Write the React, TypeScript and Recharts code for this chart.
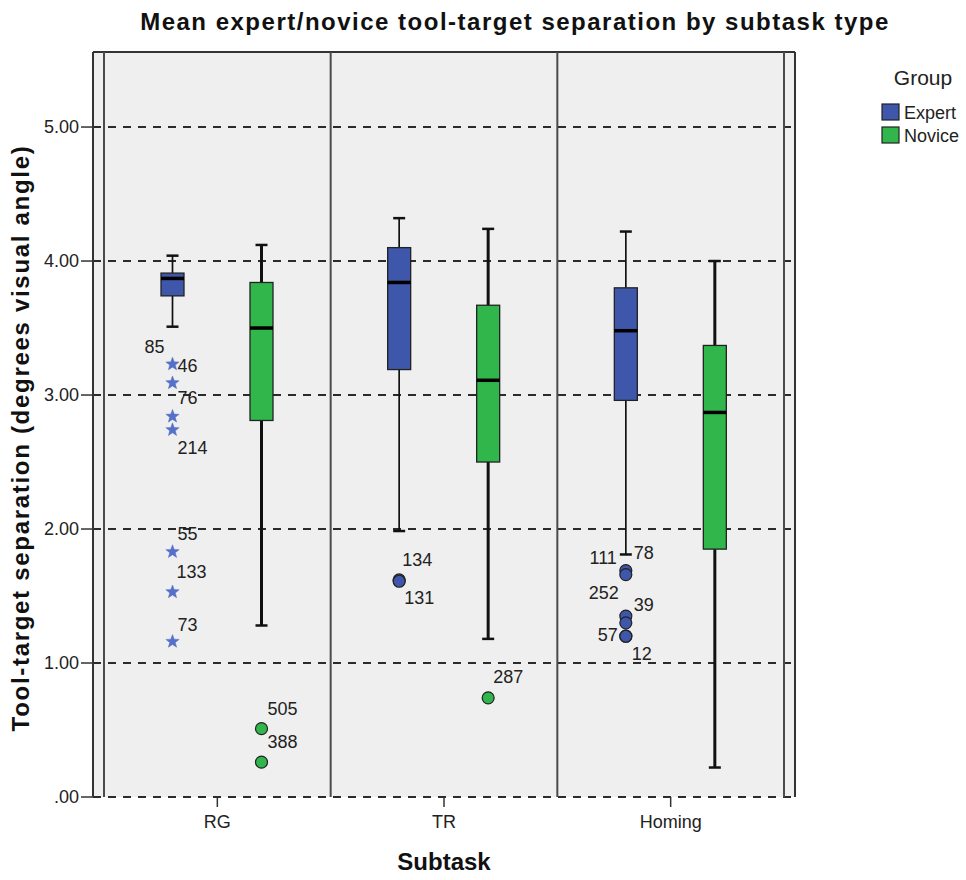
import React from "react";
import { ComposedChart, Bar, XAxis, YAxis, CartesianGrid } from "recharts";

// subtask categories (one panel each)
const subtasks = ["RG", "TR", "Homing"];

// expert group box stats
const expertLow = [3.51, 1.985, 1.81];
const expertQ1 = [3.74, 3.19, 2.96];
const expertMedian = [3.87, 3.84, 3.48];
const expertQ3 = [3.91, 4.1, 3.8];
const expertHigh = [4.04, 4.32, 4.22];

// novice group box stats
const noviceLow = [1.28, 1.18, 0.22];
const noviceQ1 = [2.81, 2.5, 1.85];
const noviceMedian = [3.5, 3.11, 2.87];
const noviceQ3 = [3.84, 3.67, 3.37];
const noviceHigh = [4.12, 4.24, 4.0];

type Outlier = { id: string; v: number; extreme?: boolean };

const expertOutliers: Outlier[][] = [
  [
    { id: "85", v: 3.23, extreme: true },
    { id: "46", v: 3.09, extreme: true },
    { id: "76", v: 2.84, extreme: true },
    { id: "214", v: 2.74, extreme: true },
    { id: "55", v: 1.83, extreme: true },
    { id: "133", v: 1.53, extreme: true },
    { id: "73", v: 1.16, extreme: true },
  ],
  [
    { id: "134", v: 1.62 },
    { id: "131", v: 1.61 },
  ],
  [
    { id: "111", v: 1.69 },
    { id: "78", v: 1.66 },
    { id: "252", v: 1.35 },
    { id: "39", v: 1.3 },
    { id: "57", v: 1.2 },
    { id: "12", v: 1.2 },
  ],
];

const noviceOutliers: Outlier[][] = [
  [
    { id: "505", v: 0.51 },
    { id: "388", v: 0.26 },
  ],
  [{ id: "287", v: 0.74 }],
  [],
];

const yTicks = [0, 1, 2, 3, 4, 5];

// label placement next to each outlier: [dx, dy, anchor]
const LABEL_POS: Record<string, [number, number, "start" | "end"]> = {
  "85": [-8, -11, "end"],
  "46": [5, -11, "start"],
  "76": [5, -12, "start"],
  "214": [5, 24, "start"],
  "55": [5, -12, "start"],
  "133": [4, -14, "start"],
  "73": [5, -11, "start"],
  "505": [6, -14, "start"],
  "388": [6, -14, "start"],
  "134": [3, -14, "start"],
  "131": [5, 23, "start"],
  "287": [5, -15, "start"],
  "111": [-9, -7, "end"],
  "78": [8, -16, "start"],
  "252": [-7, -17, "end"],
  "39": [8, -12, "start"],
  "57": [-8, 5, "end"],
  "12": [6, 24, "start"],
};

const COLORS: Record<string, string> = { expert: "#3e57ab", novice: "#30b64b" };
const FONT = "'Liberation Sans', Arial, sans-serif";

const W = 966;
const H = 880;
const PLOT = { left: 93, right: 795, top: 52, bottom: 797 };
const PAD = 11;
const bandW = (PLOT.right - PLOT.left - 2 * PAD) / subtasks.length;

const stats = (lo: number[], q1: number[], md: number[], q3: number[], hi: number[], out: Outlier[][], i: number) => ({
  low: lo[i],
  q1: q1[i],
  median: md[i],
  q3: q3[i],
  high: hi[i],
  outliers: out[i],
});

const data = subtasks.map((s, i) => ({
  subtask: s,
  expertRange: [expertLow[i], expertHigh[i]],
  noviceRange: [noviceLow[i], noviceHigh[i]],
  expert: stats(expertLow, expertQ1, expertMedian, expertQ3, expertHigh, expertOutliers, i),
  novice: stats(noviceLow, noviceQ1, noviceMedian, noviceQ3, noviceHigh, noviceOutliers, i),
}));

const starPoints = (cx: number, cy: number, r: number) => {
  const pts: string[] = [];
  for (let k = 0; k < 10; k++) {
    const rr = k % 2 === 0 ? r : r * 0.42;
    const a = -Math.PI / 2 + (k * Math.PI) / 5;
    pts.push(`${cx + rr * Math.cos(a)},${cy + rr * Math.sin(a)}`);
  }
  return pts.join(" ");
};

const BoxShape = (props: any) => {
  const { x, y, width, height, payload, grp } = props;
  const st = payload[grp];
  const top = Math.min(y, y + height);
  const bot = Math.max(y, y + height);
  // linear map from the bar's own scaled range
  const py = (v: number) => top + ((bot - top) * (st.high - v)) / (st.high - st.low);
  const cx = x + width / 2;
  const color = COLORS[grp];
  const ww = grp === "expert" ? 1.7 : 3;
  return (
    <g>
      <line x1={cx} x2={cx} y1={py(st.high)} y2={py(st.q3)} stroke="#111" strokeWidth={ww} />
      <line x1={cx} x2={cx} y1={py(st.q1)} y2={py(st.low)} stroke="#111" strokeWidth={ww} />
      <line x1={cx - 6} x2={cx + 6} y1={py(st.high)} y2={py(st.high)} stroke="#111" strokeWidth={2.5} />
      <line x1={cx - 6} x2={cx + 6} y1={py(st.low)} y2={py(st.low)} stroke="#111" strokeWidth={2.5} />
      <rect
        x={x}
        y={py(st.q3)}
        width={width}
        height={py(st.q1) - py(st.q3)}
        fill={color}
        stroke="#222"
        strokeWidth={1.3}
      />
      <line x1={x} x2={x + width} y1={py(st.median)} y2={py(st.median)} stroke="#000" strokeWidth={3.5} />
      {st.outliers.map((o: Outlier) => {
        const oy = py(o.v);
        const [dx, dy, anchor] = LABEL_POS[o.id] || [5, -12, "start"];
        return (
          <g key={o.id}>
            {o.extreme ? (
              <polygon points={starPoints(cx, oy, 7)} fill="#5570c8" stroke="#5570c8" strokeWidth={0.5} />
            ) : (
              <circle cx={cx} cy={oy} r={6} fill={color} stroke="#222" strokeWidth={1.2} />
            )}
            <text x={cx + dx} y={oy + dy} textAnchor={anchor} fontSize={18} fill="#222" fontFamily={FONT}>
              {o.id}
            </text>
          </g>
        );
      })}
    </g>
  );
};

const App: React.FC = () => {
  const dividers = Array.from({ length: subtasks.length + 1 }, (_, i) => PLOT.left + PAD + i * bandW);
  return (
    <div style={{ position: "absolute", left: 0, top: 0, width: W, height: H, background: "#fff", fontFamily: FONT }}>
      <ComposedChart
        width={W}
        height={H}
        data={data}
        barSize={23}
        barGap={66}
        margin={{ top: PLOT.top, left: PLOT.left - 60, right: W - PLOT.right, bottom: H - PLOT.bottom - 50 }}
      >
        <CartesianGrid
          vertical={false}
          fill="#efefef"
          fillOpacity={1}
          stroke="#2b2b2b"
          strokeWidth={2}
          strokeDasharray="8 7"
        />
        <XAxis
          dataKey="subtask"
          height={50}
          padding={{ left: PAD, right: PAD }}
          axisLine={false}
          tickSize={10}
          tickMargin={8}
          tickLine={{ stroke: "#333", strokeWidth: 1.5 }}
          tick={{ fontSize: 18, fill: "#222", fontFamily: FONT }}
        />
        <YAxis
          type="number"
          width={60}
          domain={[0, 5.56]}
          ticks={yTicks}
          allowDataOverflow
          tickSize={12}
          tickFormatter={(v: number) => (v === 0 ? ".00" : v.toFixed(2))}
          axisLine={{ stroke: "#333", strokeWidth: 2 }}
          tickLine={{ stroke: "#333", strokeWidth: 1.5 }}
          tick={{ fontSize: 18, fill: "#222", fontFamily: FONT }}
        />
        <Bar
          dataKey="expertRange"
          fill="transparent"
          isAnimationActive={false}
          shape={(p: any) => <BoxShape {...p} grp="expert" />}
        />
        <Bar
          dataKey="noviceRange"
          fill="transparent"
          isAnimationActive={false}
          shape={(p: any) => <BoxShape {...p} grp="novice" />}
        />
      </ComposedChart>

      <svg width={W} height={H} style={{ position: "absolute", left: 0, top: 0, pointerEvents: "none" }}>
        <line x1={PLOT.left} x2={PLOT.right} y1={PLOT.top} y2={PLOT.top} stroke="#333" strokeWidth={2} />
        <line x1={PLOT.right} x2={PLOT.right} y1={PLOT.top} y2={PLOT.bottom} stroke="#333" strokeWidth={2} />
        {dividers.map((dx) => (
          <line key={dx} x1={dx} x2={dx} y1={PLOT.top} y2={PLOT.bottom} stroke="#4a4a4a" strokeWidth={2} />
        ))}
        <text x={515} y={30} textAnchor="middle" fontSize={24} fontWeight="bold" letterSpacing={1.5} fill="#111" fontFamily={FONT}>
          Mean expert/novice tool-target separation by subtask type
        </text>
        <text
          x={29}
          y={438}
          transform="rotate(-90, 29, 438)"
          textAnchor="middle"
          fontSize={24}
          fontWeight="bold"
          letterSpacing={1.7}
          fill="#111"
          fontFamily={FONT}
        >
          Tool-target separation (degrees visual angle)
        </text>
        <text x={444} y={870} textAnchor="middle" fontSize={24} fontWeight="bold" fill="#111" fontFamily={FONT}>
          Subtask
        </text>
        <text x={923} y={85} textAnchor="middle" fontSize={21} fill="#222" fontFamily={FONT}>
          Group
        </text>
        <rect x={882} y={104} width={17} height={16} fill={COLORS.expert} stroke="#222" strokeWidth={1.2} />
        <text x={904} y={119} fontSize={18} fill="#222" fontFamily={FONT}>
          Expert
        </text>
        <rect x={882} y={127} width={17} height={16} fill={COLORS.novice} stroke="#222" strokeWidth={1.2} />
        <text x={904} y={142} fontSize={18} fill="#222" fontFamily={FONT}>
          Novice
        </text>
      </svg>
    </div>
  );
};

export default App;
